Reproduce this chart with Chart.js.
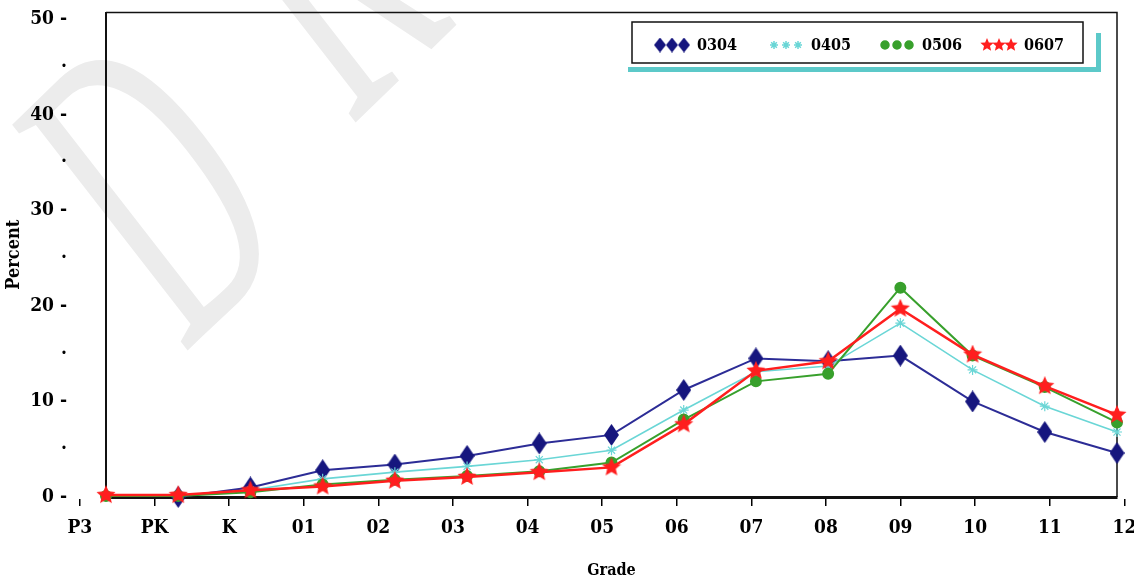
<!DOCTYPE html>
<html>
<head>
<meta charset="utf-8">
<script src="https://cdn.jsdelivr.net/npm/chart.js@4.4.1/dist/chart.umd.min.js"></script>
<style>
  html, body { margin: 0; padding: 0; background: #fff; }
</style>
</head>
<body>
<canvas id="grade-chart" width="1134" height="584"></canvas>
<script>
// grade categories along the bottom
const grades = ["P3", "PK", "K", "01", "02", "03", "04", "05", "06", "07", "08", "09", "10", "11", "12"];
const yearLabels = ["0304", "0405", "0506", "0607"];

// percent by grade
const pct0304 = [null, 0.0, 1.0, 2.8, 3.4, 4.3, 5.6, 6.5, 11.2, 14.5, 14.2, 14.8, 10.0, 6.8, 4.6];
const pct0405 = [0.1, 0.1, 0.7, 1.9, 2.6, 3.2, 3.9, 4.9, 9.1, 13.1, 13.7, 18.2, 13.3, 9.5, 6.8];
const pct0506 = [0.1, 0.1, 0.5, 1.3, 1.8, 2.2, 2.7, 3.6, 8.1, 12.1, 12.9, 21.9, 14.8, 11.5, 7.8];
const pct0607 = [0.2, 0.2, 0.7, 1.1, 1.7, 2.1, 2.6, 3.1, 7.6, 13.2, 14.2, 19.7, 14.9, 11.6, 8.6];

const yTicks = [0, 5, 10, 15, 20, 25, 30, 35, 40, 45, 50];

const FONT = "'DejaVu Serif Condensed', 'DejaVu Serif', serif";

// little canvases used as point styles
function makeDiamond(w, h, color) {
  const c = document.createElement("canvas");
  c.width = w; c.height = h;
  const g = c.getContext("2d");
  g.fillStyle = color;
  g.beginPath();
  g.moveTo(w / 2, 0);
  g.lineTo(w, h / 2);
  g.lineTo(w / 2, h);
  g.lineTo(0, h / 2);
  g.closePath();
  g.fill();
  return c;
}

function makeStar(r, color) {
  const c = document.createElement("canvas");
  c.width = r * 2; c.height = r * 2;
  const g = c.getContext("2d");
  g.fillStyle = color;
  g.beginPath();
  for (let i = 0; i < 10; i++) {
    const rad = i % 2 === 0 ? r : r * 0.45;
    const a = -Math.PI / 2 + i * Math.PI / 5;
    const px = r + rad * Math.cos(a), py = r + rad * Math.sin(a);
    if (i === 0) g.moveTo(px, py); else g.lineTo(px, py);
  }
  g.closePath();
  g.fill();
  return c;
}

const NAVY = "#16167e";
const CYAN = "#6ad6d6";
const GREEN = "#38a02c";
const RED = "#ff1e1e";

const diamondBig = makeDiamond(15, 22, NAVY);
const diamondSmall = makeDiamond(12, 15, NAVY);
const starBig = makeStar(10, RED);
const starSmall = makeStar(7, RED);

// faint watermark letters behind the plot, skewed like the scan
const draftStamp = {
  id: "draftStamp",
  beforeDraw(chart) {
    const ctx = chart.ctx;
    const letters = [["D", 183, 355], ["R", 350, 128]];
    ctx.save();
    ctx.fillStyle = "#ececec";
    ctx.font = "100px 'Liberation Serif', serif";
    ctx.textBaseline = "alphabetic";
    letters.forEach(([ch, ox, oy]) => {
      ctx.setTransform(1.6, -1.55, 2.68, 3.45, ox, oy);
      ctx.fillText(ch, 0, 0);
    });
    ctx.restore();
  }
};

// legend: three markers per entry, boxed with a cyan drop shadow
const legendMarks = [
  { pointStyle: diamondSmall, radius: 6 },
  { pointStyle: "star", radius: 4, borderWidth: 1, color: CYAN },
  { pointStyle: "circle", radius: 4, borderWidth: 1, color: GREEN },
  { pointStyle: starSmall, radius: 7 }
];

const boxLegend = {
  id: "boxLegend",
  afterDraw(chart) {
    const ctx = chart.ctx;
    ctx.save();
    ctx.fillStyle = "#5cc9c9";
    ctx.fillRect(628, 67, 473, 5);
    ctx.fillRect(1096, 33, 5, 39);
    ctx.fillStyle = "#fff";
    ctx.fillRect(632, 22, 451, 41);
    ctx.strokeStyle = "#111";
    ctx.lineWidth = 1.5;
    ctx.strokeRect(632, 22, 451, 41);

    const starts = [660, 774, 885, 987];
    chart.data.datasets.forEach((ds, i) => {
      const m = legendMarks[i];
      ctx.fillStyle = m.color || "#000";
      ctx.strokeStyle = m.color || "#000";
      for (let k = 0; k < 3; k++) {
        Chart.helpers.drawPoint(ctx, {
          pointStyle: m.pointStyle, radius: m.radius, borderWidth: m.borderWidth || 0, rotation: 0
        }, starts[i] + k * 12, 45);
      }
      ctx.fillStyle = "#000";
      ctx.font = "bold 16px " + FONT;
      ctx.textBaseline = "middle";
      ctx.fillText(ds.label, starts[i] + 37, 46);
    });
    ctx.restore();
  }
};

// top and right edges of the plot frame
const frameEdges = {
  id: "frameEdges",
  beforeDatasetsDraw(chart) {
    const { ctx, chartArea: a } = chart;
    ctx.save();
    ctx.strokeStyle = "#111";
    ctx.lineWidth = 1.5;
    ctx.beginPath();
    ctx.moveTo(a.left, a.top);
    ctx.lineTo(a.right, a.top);
    ctx.lineTo(a.right, a.bottom);
    ctx.stroke();
    ctx.restore();
  }
};

const ctx = document.getElementById("grade-chart").getContext("2d");

new Chart(ctx, {
  type: "line",
  data: {
    labels: grades,
    datasets: [
      {
        label: yearLabels[0], data: pct0304, xAxisID: "xd", order: 4,
        borderColor: "#2c2c96", borderWidth: 2,
        pointStyle: diamondBig, pointRadius: 8, pointBackgroundColor: NAVY, pointBorderColor: NAVY
      },
      {
        label: yearLabels[1], data: pct0405, xAxisID: "xd", order: 3,
        borderColor: CYAN, borderWidth: 1.6,
        pointStyle: "star", pointRadius: 5, pointBorderWidth: 1.2, pointBorderColor: CYAN
      },
      {
        label: yearLabels[2], data: pct0506, xAxisID: "xd", order: 2,
        borderColor: GREEN, borderWidth: 2,
        pointStyle: "circle", pointRadius: 5, pointBackgroundColor: GREEN, pointBorderColor: GREEN
      },
      {
        label: yearLabels[3], data: pct0607, xAxisID: "xd", order: 1,
        borderColor: RED, borderWidth: 2.5,
        pointStyle: starBig, pointRadius: 10, pointBackgroundColor: RED, pointBorderColor: RED
      }
    ]
  },
  options: {
    responsive: false,
    animation: false,
    devicePixelRatio: 1,
    layout: { padding: { top: 11, right: 17, left: 0, bottom: 0 } },
    plugins: { legend: { display: false }, tooltip: { enabled: false } },
    datasets: { line: { clip: false, tension: 0, fill: false } },
    scales: {
      xd: { type: "category", labels: grades, display: false, offset: false, position: "bottom" },
      x: {
        type: "linear",
        position: "bottom",
        min: 0.35,
        max: 13.9,
        afterBuildTicks: s => { s.ticks = grades.map((g, i) => ({ value: i })); },
        afterFit: s => { s.height = 87; s.paddingLeft = 0; s.paddingRight = 0; },
        ticks: {
          autoSkip: false, maxRotation: 0, padding: 11, color: "#000",
          font: { family: FONT, size: 19, weight: "bold" },
          callback: (v, i) => grades[i]
        },
        grid: { drawOnChartArea: false, drawTicks: true, tickLength: 9, color: "#000", lineWidth: 1.5 },
        border: { display: true, color: "#111", width: 3 },
        title: {
          display: true, text: "Grade", color: "#000",
          font: { family: FONT, size: 16, weight: "bold" },
          padding: { top: 0, bottom: 4 }
        }
      },
      y: {
        min: 0,
        max: 50.7,
        afterBuildTicks: s => { s.ticks = yTicks.map(v => ({ value: v })); },
        afterFit: s => { s.width = 106; s.paddingTop = 0; s.paddingBottom = 0; },
        ticks: {
          padding: 31, color: "#000",
          font: { family: FONT, size: 19, weight: "bold" },
          callback: v => (v % 10 === 0 ? v + " -" : "·")
        },
        grid: { display: false },
        border: { display: true, color: "#111", width: 2 },
        title: {
          display: true, text: "Percent", color: "#000",
          font: { family: FONT, size: 18, weight: "bold" },
          padding: { top: 4, bottom: 0 }
        }
      }
    }
  },
  plugins: [draftStamp, frameEdges, boxLegend]
});
</script>
</body>
</html>
